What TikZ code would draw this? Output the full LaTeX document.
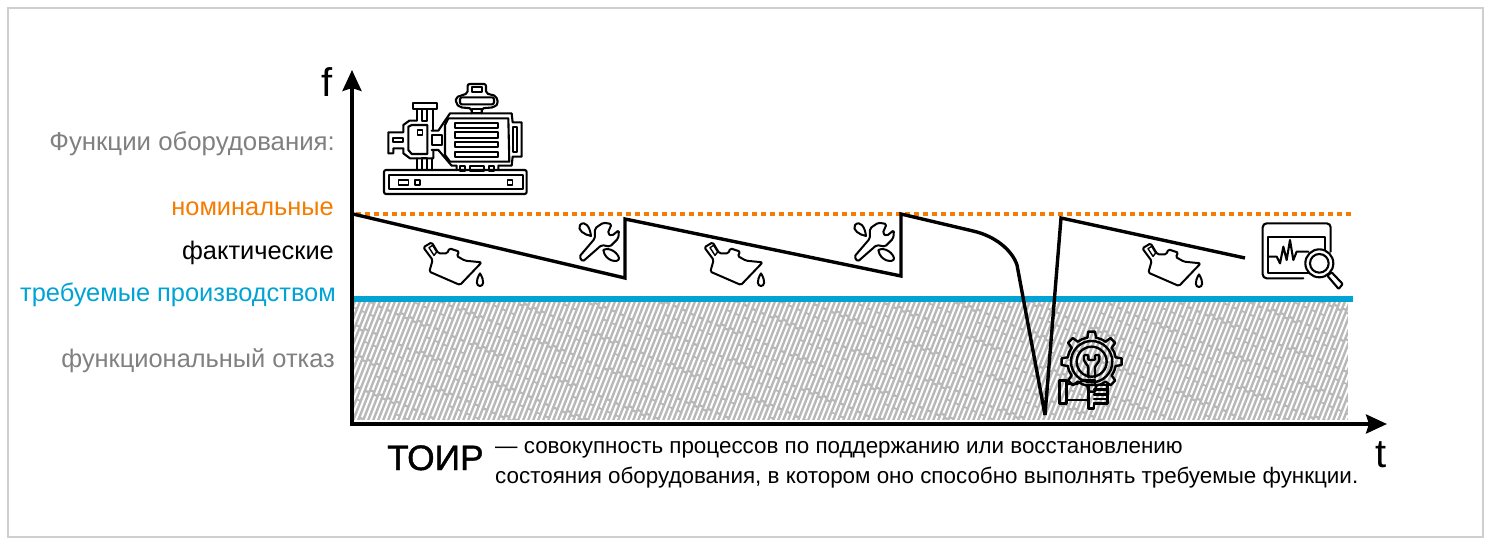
\documentclass[tikz,border=0pt]{standalone}
\usepackage{fontspec}
\setmainfont{Liberation Sans}
\newfontfamily\axisfont{Liberation Sans}
\newfontfamily\toirfont[FakeBold=1.2]{Liberation Sans}
\usetikzlibrary{arrows.meta}
\definecolor{orng}{HTML}{F57C00}
\definecolor{blu}{HTML}{00A3D4}
\definecolor{gry}{HTML}{808080}
\definecolor{frm}{HTML}{CFCFCF}
\definecolor{hatch}{HTML}{B8B8B8}
\tikzset{
  lbl/.style={anchor=base east,inner sep=0pt,font=\fontsize{25.4}{28}\selectfont},
  body/.style={anchor=base west,inner sep=0pt,font=\fontsize{22.4}{24}\selectfont},
  axlbl/.style={anchor=base,inner sep=0pt,font=\axisfont\fontsize{40}{42}\selectfont},
  axis/.style={line width=3.6pt,-{Stealth[length=21pt,width=19pt,inset=3pt]}},
  ico/.style={line width=2.1pt,line join=round,line cap=round},
  icothin/.style={line width=2pt,line join=round,line cap=round},
  iconframe/.style={x=.3333pt,y=-.3333pt},
  oilcan/.pic={
    \draw[icothin,rounded corners=1.5pt] (40,112)--(65,97)--(85,130)--(112,130)--(118,115)--(148,125)--(140,138)--(165,152)--(215,157)--(150,225)--(58,185)--(68,150)--cycle;
    \draw[icothin,line width=1.4pt] (57,113)--(68,106)--(80,126)--(72,136)--cycle;
    \draw[icothin] (210,190) .. controls (195,215) and (200,228) .. (210,228) .. controls (220,228) and (225,215) .. (210,190);
  },
  wrench/.pic={
    \draw[icothin,rounded corners=1.7pt] (508,140)--(518,155)--(575,105)--(600,110)--(625,85)--(627,60)--(605,78)--(593,70)--(605,42)--(580,38)--(555,55)--(555,85)--cycle;
    \draw[icothin] (510,45) .. controls (525,30) and (540,50) .. (543,78) .. controls (525,75) and (500,60) .. (510,45);
    \draw[icothin] (580,120) .. controls (600,110) and (625,130) .. (627,145) .. controls (627,160) and (585,155) .. (580,120);
  }
}
\begin{document}
\begin{tikzpicture}[x=1pt,y=-1pt]
\useasboundingbox (0,0) rectangle (1493,548);
\draw[frm,line width=1.5pt] (8,8) rectangle (1483,537);

% hatched failure zone
\fill[hatch] (354,302) rectangle (1348,420);
\begin{scope}
\clip (354,302) rectangle (1348,420);
\foreach \i in {0,...,215}{
  \pgfmathsetmacro{\xa}{300+5*\i}
  \draw[white,line width=2pt,dash pattern=on 27pt off 2.5pt on 13pt off 2pt on 36pt off 2.5pt,dash phase={(mod(\i*41,83)+mod(\i*17,29))*1pt}] (\xa,422) -- ++(48,-122);
}
\end{scope}

% level lines
\coordinate (ax0) at (352,424);
\coordinate (axY) at (352,70);
\coordinate (axX) at (1387,424);
\coordinate (nomL) at (356,214);
\coordinate (nomR) at (1353,214);
\coordinate (reqL) at (354,299);
\coordinate (reqR) at (1353,299);
\draw[orng,line width=4.6pt,dash pattern=on 5pt off 4pt] (nomL) -- (nomR);
\draw[blu,line width=6pt] (reqL) -- (reqR);

% actual function curve
\coordinate (c0) at (353,214);
\coordinate (c1) at (625,278);
\coordinate (c2) at (625,219);
\coordinate (c3) at (901,276);
\coordinate (c4) at (901,214);
\coordinate (c5) at (973,231);
\coordinate (c6) at (1017,265);
\coordinate (c7) at (1045,415);
\coordinate (c8) at (1061,218);
\coordinate (c9) at (1245,258);
\draw[line width=3.4pt,line join=miter,miter limit=4] (c0)--(c1)--(c2)--(c3)--(c4)--(c5) .. controls (995,236) and (1012,250) .. (c6) -- (c7) -- (c8) -- (c9);

% axes
\draw[axis] (ax0) -- (axY);
\draw[axis] ([xshift=-1.8pt]ax0) -- (axX);

% labels
\node[lbl,text=gry,font=\fontsize{25.8}{28}\selectfont] (fn) at (335,151) {Функции оборудования:};
\node[lbl,text=orng] (nom) at (334,215) {номинальные};
\node[lbl,text=black] (fact) at (334,259) {фактические};
\node[lbl,text=blu] (req) at (336,301) {требуемые производством};
\node[lbl,text=gry] (fail) at (335,367) {функциональный отказ};
\node[axlbl] (f) at (327,97) {f};
\node[axlbl] (t) at (1381,467) {t};
\node[anchor=base west,inner sep=0pt,font=\toirfont\fontsize{35.3}{40}\selectfont] (toir) at (387,470) {ТОИР};
\node[body] (d1) at (495,453) {— совокупность процессов по поддержанию или восстановлению};
\node[body] (d2) at (495,483) {состояния оборудования, в котором оно способно выполнять требуемые функции.};

% motor icon
\begin{scope}[shift={(370,70)},iconframe]
\begin{scope}[ico]
\draw[rounded corners=2pt] (42,300) rectangle (470,372);
\draw (58,316) rectangle (458,358);
\draw[line width=1.6pt] (85,330) rectangle (115,345) (135,330) rectangle (150,345) (413,330) rectangle (428,345);
\draw (235,145)--(415,145)--(418,275)--(240,275)--(225,255)--(225,165)--cycle;
\draw (185,240)--(205,240)--(245,287)--(260,287)--(260,300);
\draw (185,182)--(205,182)--(240,130)--(425,130)--(428,157)--(455,157)--(455,260)--(428,260)--(425,287)--(385,287)--(385,300);
\foreach \ya/\yb in {158/175,187/203,216/232,245/261} \draw (255,\ya) rectangle (385,\yb);
\draw (428,172) rectangle (442,245);
\draw[rounded corners=2pt] (305,130)--(305,115)--(270,112)--(258,100)--(258,82)--(293,70)--(293,42)--(348,42)--(348,70)--(378,78)--(385,100)--(372,112)--(335,115)--(335,130);
\draw (307,52) rectangle (335,65);
\draw[rounded corners=2pt] (270,82) rectangle (372,103);
\draw (305,117) rectangle (335,130);
\draw (128,100) rectangle (200,117);
\draw (157,117) rectangle (172,152);
\draw (140,117)--(140,152);\draw (190,117)--(190,182);
\draw (140,152)--(118,152)--(100,165)--(100,187)--(55,187)--(55,250)--(70,250)--(70,235)--(100,235)--(100,250)--(120,265)--(190,265)--(190,240);
\draw (115,170)--(125,165)--(172,165)--(172,252)--(125,252)--(115,240)--cycle;
\draw[line width=1.6pt] (142,180) rectangle (157,195);
\draw (185,195) rectangle (215,225);
\draw (70,203) rectangle (100,217);
\draw (157,265) rectangle (172,300);
\draw (140,265)--(140,300);\draw (185,265)--(185,300);
\draw (270,287) rectangle (285,302) (300,287) rectangle (343,302) (357,287) rectangle (372,302);
\end{scope}
\end{scope}

% oil cans
\begin{scope}[shift={(410,210)},iconframe]\pic {oilcan};\end{scope}
\begin{scope}[shift={(691,210)},iconframe]\pic {oilcan};\end{scope}
\begin{scope}[shift={(1129,211)},iconframe]\pic {oilcan};\end{scope}
% wrenches
\begin{scope}[shift={(410,210)},iconframe]\pic {wrench};\end{scope}
\begin{scope}[shift={(685,210)},iconframe]\pic {wrench};\end{scope}

% gear with hand
\begin{scope}[shift={(1020,320)},iconframe,ico,line width=2.4pt]
\draw (215,125) circle (62);
\draw (215,125) circle (45);
\foreach \a in {0,45,...,315}{
  \begin{scope}[shift={(215,125)},rotate=\a]
  \draw (72,-13)--(90,-10)--(90,10)--(72,13);
  \draw (72,13) arc[start angle=10,end angle=35,radius=73.5];
  \end{scope}
}
\draw[rounded corners=1pt] (205,172)--(205,140)--(192,122)--(192,105)--(205,105)--(205,120)--(225,120)--(225,105)--(238,105)--(238,122)--(225,140)--(225,172);
\draw (118,182) rectangle (140,250);
\draw (140,192)--(170,192)--(190,180)--(225,180)--(225,195)--(195,195);
\draw (140,240)--(205,240)--(205,265)--(222,265)--(222,250);
\draw (205,195)--(205,240);
\foreach \y in {195,209,223,237} \draw (222,\y)--(262,\y);
\draw (262,195)--(262,250)--(222,250);
\end{scope}

% monitor with magnifier
\begin{scope}[shift={(1240,210)},iconframe,ico]
\draw[rounded corners=4pt] (190,205)--(68,205)--(68,40)--(272,40)--(272,125);
\draw (205,190)--(85,190)--(85,82)--(255,82)--(255,125);
\draw (85,140)--(110,140)--(120,160)--(130,110)--(140,150)--(150,90)--(160,150)--(170,125)--(205,125);
\draw[fill=white] (238,160) circle (42);
\draw (238,160) circle (28);
\draw[fill=white,rounded corners=1pt] (262,197)--(275,187)--(308,222)--(296,237)--cycle;
\end{scope}
\end{tikzpicture}
\end{document}
